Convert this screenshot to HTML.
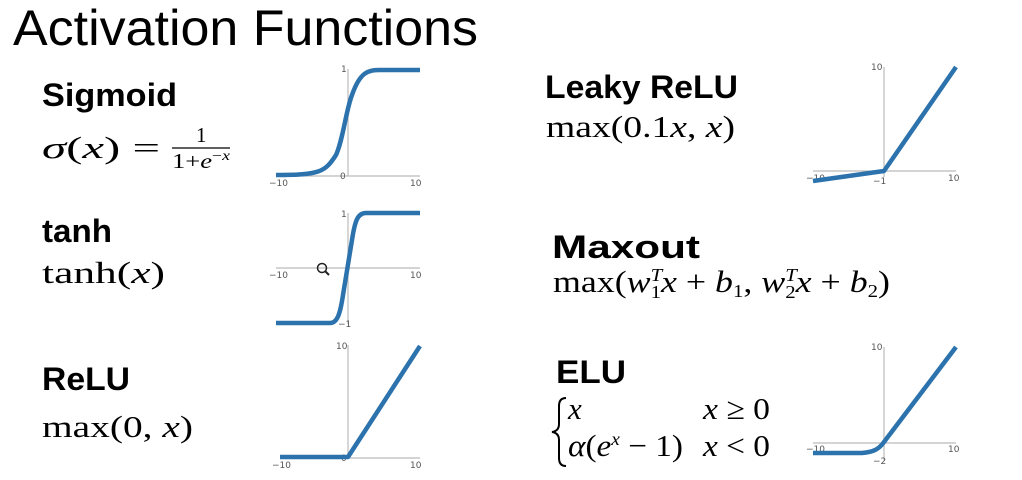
<!DOCTYPE html>
<html><head><style>
html,body{margin:0;padding:0;background:#fff;}
svg{display:block}
.t{font-family:"Liberation Sans",sans-serif}
.b{font-family:"Liberation Sans",sans-serif;font-weight:bold;font-size:32px}
.m{font-family:"Liberation Serif",serif;font-size:31px}
.i{font-style:italic}
.ax{stroke:#bbb;stroke-width:1.2;fill:none}
.c{stroke:#2c72ad;stroke-width:4.5;fill:none;stroke-linejoin:round}
.tk{font-family:"DejaVu Sans",sans-serif;font-size:9px;fill:#555}
</style></head><body>
<svg width="1022" height="480" xmlns="http://www.w3.org/2000/svg">
<text class="t" x="13" y="45" style="font-size:50px" textLength="465" lengthAdjust="spacingAndGlyphs">Activation Functions</text>

<!-- left labels -->
<text class="b" x="42" y="106" textLength="135" lengthAdjust="spacingAndGlyphs">Sigmoid</text>
<text class="m" x="42" y="158" textLength="118" lengthAdjust="spacingAndGlyphs"><tspan class="i">σ</tspan>(<tspan class="i">x</tspan>) =</text>
<line x1="172" y1="148" x2="230" y2="148" stroke="#000" stroke-width="1.3"/>
<text x="196" y="142" style="font-family:'Liberation Serif',serif;font-size:21px">1</text>
<text x="172" y="168" style="font-family:'Liberation Serif',serif;font-size:21px" textLength="58" lengthAdjust="spacingAndGlyphs">1+<tspan class="i">e</tspan><tspan style="font-size:14px" dy="-8">−</tspan><tspan style="font-size:14px" class="i">x</tspan></text>

<text class="b" x="42" y="242" textLength="70" lengthAdjust="spacingAndGlyphs">tanh</text>
<text class="m" x="42" y="283" textLength="123" lengthAdjust="spacingAndGlyphs">tanh(<tspan class="i">x</tspan>)</text>

<text class="b" x="42" y="390" textLength="88" lengthAdjust="spacingAndGlyphs">ReLU</text>
<text class="m" x="42" y="437" textLength="151" lengthAdjust="spacingAndGlyphs">max(0, <tspan class="i">x</tspan>)</text>

<!-- right labels -->
<text class="b" x="545" y="98" textLength="193" lengthAdjust="spacingAndGlyphs">Leaky ReLU</text>
<text class="m" x="546" y="137" textLength="189" lengthAdjust="spacingAndGlyphs">max(0.1<tspan class="i">x</tspan>, <tspan class="i">x</tspan>)</text>

<text class="b" x="552" y="258" textLength="148" lengthAdjust="spacingAndGlyphs">Maxout</text>
<text class="m" x="553" y="292" textLength="337" lengthAdjust="spacingAndGlyphs">max(<tspan class="i">w</tspan><tspan style="font-size:18px" dy="-11" class="i">T</tspan><tspan style="font-size:18px" dx="-10" dy="17">1</tspan><tspan dy="-6" class="i">x</tspan> + <tspan class="i">b</tspan><tspan style="font-size:18px" dy="5">1</tspan><tspan dy="-5">, </tspan><tspan class="i">w</tspan><tspan style="font-size:18px" dy="-11" class="i">T</tspan><tspan style="font-size:18px" dx="-10" dy="17">2</tspan><tspan dy="-6" class="i">x</tspan> + <tspan class="i">b</tspan><tspan style="font-size:18px" dy="5">2</tspan><tspan dy="-5">)</tspan></text>

<text class="b" x="556" y="383" textLength="70" lengthAdjust="spacingAndGlyphs">ELU</text>
<path d="M566 398 q-7 0 -7 8 v18 q0 7 -7 8 q7 1 7 8 v18 q0 8 7 8" stroke="#000" stroke-width="2" fill="none"/>
<text class="m" x="568" y="419"><tspan class="i">x</tspan></text>
<text class="m" x="703" y="419" textLength="67" lengthAdjust="spacingAndGlyphs"><tspan class="i">x</tspan> ≥ 0</text>
<text class="m" x="568" y="456" textLength="115" lengthAdjust="spacingAndGlyphs"><tspan class="i">α</tspan>(<tspan class="i">e</tspan><tspan style="font-size:18px" dy="-11" class="i">x</tspan><tspan dy="11"> − 1)</tspan></text>
<text class="m" x="703" y="456" textLength="67" lengthAdjust="spacingAndGlyphs"><tspan class="i">x</tspan> &lt; 0</text>

<!-- sigmoid plot -->
<line class="ax" x1="348" y1="69" x2="348" y2="176"/>
<line class="ax" x1="276" y1="176" x2="420" y2="176"/>
<text class="tk" x="341" y="72">1</text><text class="tk" x="340" y="179">0</text>
<text class="tk" x="269" y="186">−10</text><text class="tk" x="410" y="186">10</text>
<path class="c" d="M276 175 C320 175 325 172 336 155 C343 140 346 110 352 95 C360 72 368 70 380 70 L420 70"/>

<!-- tanh plot -->
<line class="ax" x1="348" y1="213" x2="348" y2="324"/>
<line class="ax" x1="276" y1="268" x2="420" y2="268"/>
<text class="tk" x="341" y="217">1</text><text class="tk" x="338" y="327">−1</text>
<text class="tk" x="269" y="278">−10</text><text class="tk" x="410" y="278">10</text>
<path class="c" d="M276 323 L330 323 C337 323 340 315 343 295 L352 240 C355 220 358 213 366 213 L420 213"/>
<circle cx="322" cy="268" r="4.5" fill="none" stroke="#222" stroke-width="1.5"/>
<line x1="325" y1="271" x2="329" y2="275" stroke="#222" stroke-width="2"/>

<!-- relu plot -->
<line class="ax" x1="348" y1="345" x2="348" y2="458"/>
<line class="ax" x1="280" y1="458" x2="420" y2="458"/>
<text class="tk" x="336" y="349">10</text><text class="tk" x="341" y="461">0</text>
<text class="tk" x="272" y="468">−10</text><text class="tk" x="410" y="468">10</text>
<path class="c" d="M280 457 L348 457 L420 346"/>

<!-- leaky relu plot -->
<line class="ax" x1="884" y1="67" x2="884" y2="177"/>
<line class="ax" x1="813" y1="171" x2="956" y2="171"/>
<text class="tk" x="871" y="70">10</text><text class="tk" x="873" y="184">−1</text>
<text class="tk" x="806" y="181">−10</text><text class="tk" x="948" y="181">10</text>
<path class="c" d="M813 181 L884 171 L956 67"/>

<!-- elu plot -->
<line class="ax" x1="884" y1="347" x2="884" y2="460"/>
<line class="ax" x1="813" y1="443" x2="956" y2="443"/>
<text class="tk" x="871" y="350">10</text><text class="tk" x="873" y="464">−2</text>
<text class="tk" x="806" y="452">−10</text><text class="tk" x="948" y="452">10</text>
<path class="c" d="M813 453 L862 453 C874 452 879 449 884 442 L956 347"/>
</svg>
</body></html>
